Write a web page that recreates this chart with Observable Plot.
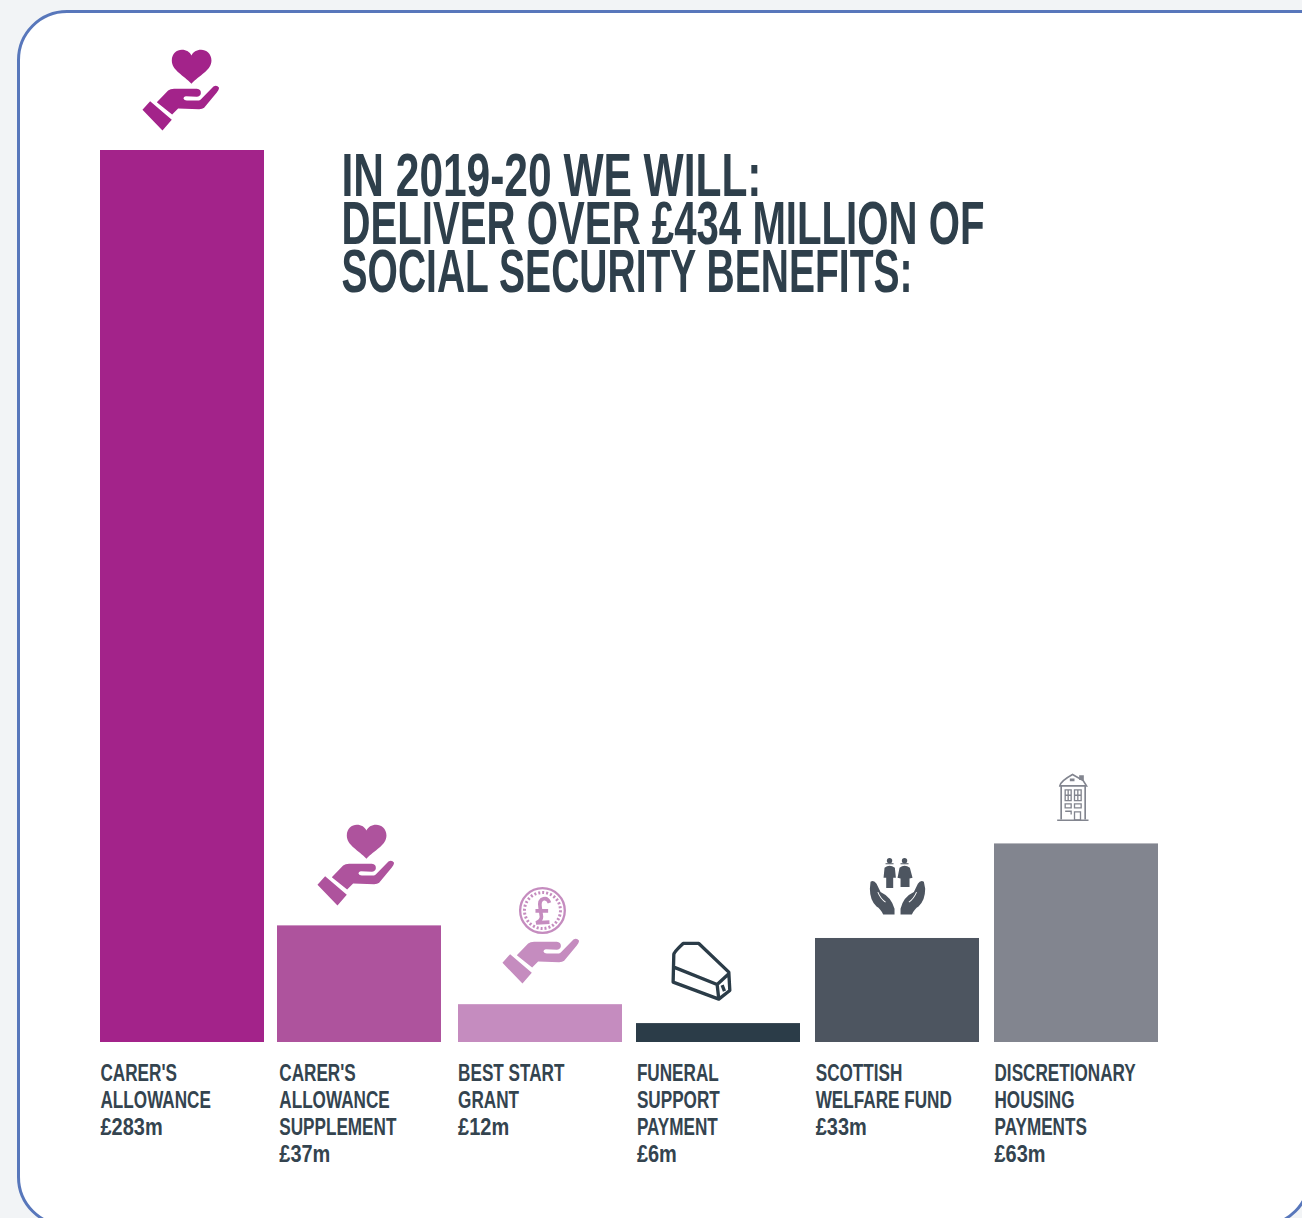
<!DOCTYPE html>
<html lang="en">
<head>
<meta charset="utf-8">
<title>Social security benefits 2019-20</title>
<script src="https://cdn.jsdelivr.net/npm/d3@7"></script>
<script src="https://cdn.jsdelivr.net/npm/@observablehq/plot@0.6"></script>
<style>
  html, body { margin: 0; width: 1302px; height: 1218px; overflow: hidden; background: #f2f4f6; }
  #card {
    position: absolute; left: 17px; top: 10px; width: 1288px; height: 1211px;
    background: #fff; border: 3px solid #5877bb;
    border-radius: 50px 0 50px 50px;
  }
  #chart { position: absolute; left: 0; top: 0; }
  #chart svg { background: transparent; overflow: visible; }
</style>
</head>
<body>
<div id="card"></div>
<div id="chart"></div>
<script>
const heading = "IN 2019-20 WE WILL:\nDELIVER OVER £434 MILLION OF\nSOCIAL SECURITY BENEFITS:";
const benefits = [
  "CARER'S\nALLOWANCE",
  "CARER'S\nALLOWANCE\nSUPPLEMENT",
  "BEST START\nGRANT",
  "FUNERAL\nSUPPORT\nPAYMENT",
  "SCOTTISH\nWELFARE FUND",
  "DISCRETIONARY\nHOUSING\nPAYMENTS"
];
const millions = [283, 37, 12, 6, 33, 63];
const barColors = ["#a3238a", "#ae539d", "#c58cbf", "#2b3c48", "#4d5560", "#82858f"];

const rows = benefits.map((name, i) => ({
  key: i,
  name,
  lines: name.split("\n").length,
  amount: `£${millions[i]}m`,
  value: millions[i],
  color: barColors[i]
}));

// Small pictograms, each in its own drawing space
const svgUri = (viewBox, body) =>
  "data:image/svg+xml," + encodeURIComponent(
    `<svg xmlns="http://www.w3.org/2000/svg" viewBox="${viewBox}">${body}</svg>`);

const handPath = c => `<path fill="${c}" d="M178 212L243 268L215 300L155 238ZM198 215L232 180Q238 175 250 175L318 175Q332 177 330 190Q328 198 318 199L285 197Q278 198 278 204Q280 210 288 210L325 210Q330 208 335 202L368 168Q378 162 385 172Q384 180 378 186L340 232Q335 236 325 236L262 234L244 252Z"/>`;
const heartPath = c => `<path fill="${c}" d="M302 160C280 135 243 120 243 90C243 70 258 58 273 58C287 58 297 65 302 75C307 65 317 58 331 58C346 58 362 70 362 90C362 120 324 135 302 160Z"/>`;
const handBox = "150 0 240 310";

const heartHand = c => svgUri(handBox, heartPath(c) + handPath(c));
const coinHand = c => svgUri(handBox, handPath(c) + `
  <circle cx="275" cy="81" r="67" fill="none" stroke="${c}" stroke-width="7"/>
  <circle cx="275" cy="81" r="54" fill="none" stroke="${c}" stroke-width="9" stroke-dasharray="6 6"/>
  <path fill="none" stroke="${c}" stroke-width="11" d="M296 58Q290 42 278 46Q264 50 268 72L272 100Q272 112 256 118L296 116M254 82L292 82"/>`);
const coffin = c => svgUri("1105 535 195 195", `
  <path fill="none" stroke="${c}" stroke-width="10" stroke-linejoin="round" d="M1120 582Q1120 575 1148 549L1195 549L1285 635L1288 690L1255 716L1118 665ZM1120 620L1250 672L1285 640M1250 672L1255 716M1265 674L1272 692"/>`);
const family = c => svgUri("200 285 180 185", `
  <path fill="${c}" d="M210 364Q220 358 228 370L240 395Q272 410 282 445L282 462L248 462Q240 445 228 438Q208 420 208 385ZM370 364Q360 358 352 370L340 395Q308 410 300 445L300 462L334 462Q342 445 354 438Q374 420 374 385Z"/>
  <path fill="none" stroke="#fff" stroke-width="3" d="M232 395Q240 415 255 425M348 395Q340 415 325 425"/>
  <circle cx="267" cy="301" r="8" fill="${c}"/><circle cx="312" cy="301" r="8" fill="${c}"/>
  <path fill="none" stroke="${c}" stroke-width="3" d="M255 310H279M300 310H324"/>
  <path fill="${c}" d="M252 322Q267 310 283 322L286 352L278 352L278 383L257 383L257 352L249 352ZM297 322Q312 310 328 322L336 352L327 354L327 380L300 380L300 354L291 352Z"/>`);
const building = c => svgUri("765 30 105 160", `
  <g fill="none" stroke="${c}" stroke-width="5">
    <path d="M782 74L782 176M854 74L854 176M770 179L864 179M778 76Q780 62 816 42L848 60L858 76Z"/>
    <path stroke-width="4" d="M794 88h18v32h-18zM822 88h20v32h-20zM794 104h18M822 104h20M803 88v32M832 88v32M794 130h18v12h-18zM822 130h20v12h-20zM794 152h18v10M822 154v24h18v-24z"/>
  </g>
  <path fill="${c}" d="M836 44h14v14h-14zM808 54h14v8h-14z"/>`);

// One pictogram, anchored to the top of its bar
const iconMark = (i, src, width, height, dx, dy) =>
  Plot.image([rows[i]], {x: "key", y: "value", src: () => src, width, height, dx, dy});

const face = '"Liberation Sans Narrow", "Liberation Sans", sans-serif';
const labelSize = 24.5;
const labelLeading = 27;

// Shared options for the text under the bars
const labelStyle = {
  frameAnchor: "bottom",
  x: "key",
  textAnchor: "start",
  lineAnchor: "top",
  lineHeight: labelLeading / labelSize,
  dx: -82,
  fontFamily: face,
  fontWeight: 700,
  fontSize: labelSize,
  fill: "#34444f"
};

// Amounts start one line below the name, whose length varies
const amountMark = lines => Plot.text(rows.filter(d => d.lines === lines), {
  ...labelStyle,
  text: "amount",
  dy: 19 + lines * labelLeading,
  className: "amounts"
});

// The columns sit at slightly irregular intervals
const barNudge = [0, -1.8, 0.4, -0.4, -0.2, 0];

const chart = Plot.plot({
  width: 1302,
  height: 1218,
  marginLeft: 100,
  marginRight: 144,
  marginTop: 150,
  marginBottom: 176,
  x: {type: "band", axis: null, domain: d3.range(benefits.length), paddingInner: 0.0828, paddingOuter: 0, align: 0, round: false},
  y: {axis: null, domain: [0, 283]},
  marks: [
    rows.map((row, i) => Plot.barY([row], {x: "key", y: "value", fill: "color", dx: barNudge[i]})),
    Plot.text([heading], {
      frameAnchor: "top-left",
      text: d => d,
      textAnchor: "start",
      lineAnchor: "top",
      lineHeight: 48 / 61,
      dx: 241,
      dy: 11,
      fontFamily: face,
      fontWeight: 700,
      fontSize: 61,
      fill: "#2e3f4b",
      className: "heading"
    }),
    Plot.text(rows, {...labelStyle, text: "name", dy: 19, className: "names"}),
    amountMark(2),
    amountMark(3),
    iconMark(0, heartHand(barColors[0]), 80, 103.33, -1.7, -68.3),
    iconMark(1, heartHand(barColors[1]), 80, 103.33, -5.5, -68.7),
    iconMark(2, coinHand(barColors[2]), 80, 103.33, 0.7, -69.5),
    iconMark(3, coffin(barColors[3]), 65, 65, -17.6, -52.3),
    iconMark(4, family(barColors[4]), 60, 61.67, -0.5, -52.2),
    iconMark(5, building(barColors[5]), 35, 53.33, -3.5, -46.7)
  ]
});

// The label face is set narrower than the installed narrow cut
const squeeze = (cls, k) => d3.select(chart).selectAll(`.${cls} text`).attr("transform", function() {
  return `${this.getAttribute("transform") || ""} scale(${k} 1)`;
});
squeeze("names", 0.70);
squeeze("amounts", 0.815);

// Each heading line is fitted to its own measure inside the narrowed text
const headingSqueeze = 0.66;
const headingWidths = [420, 643, 571];
squeeze("heading", headingSqueeze);
d3.select(chart).selectAll(".heading tspan")
  .attr("lengthAdjust", "spacingAndGlyphs")
  .attr("textLength", (d, i) => headingWidths[i] / headingSqueeze);

document.getElementById("chart").append(chart);
</script>
</body>
</html>
